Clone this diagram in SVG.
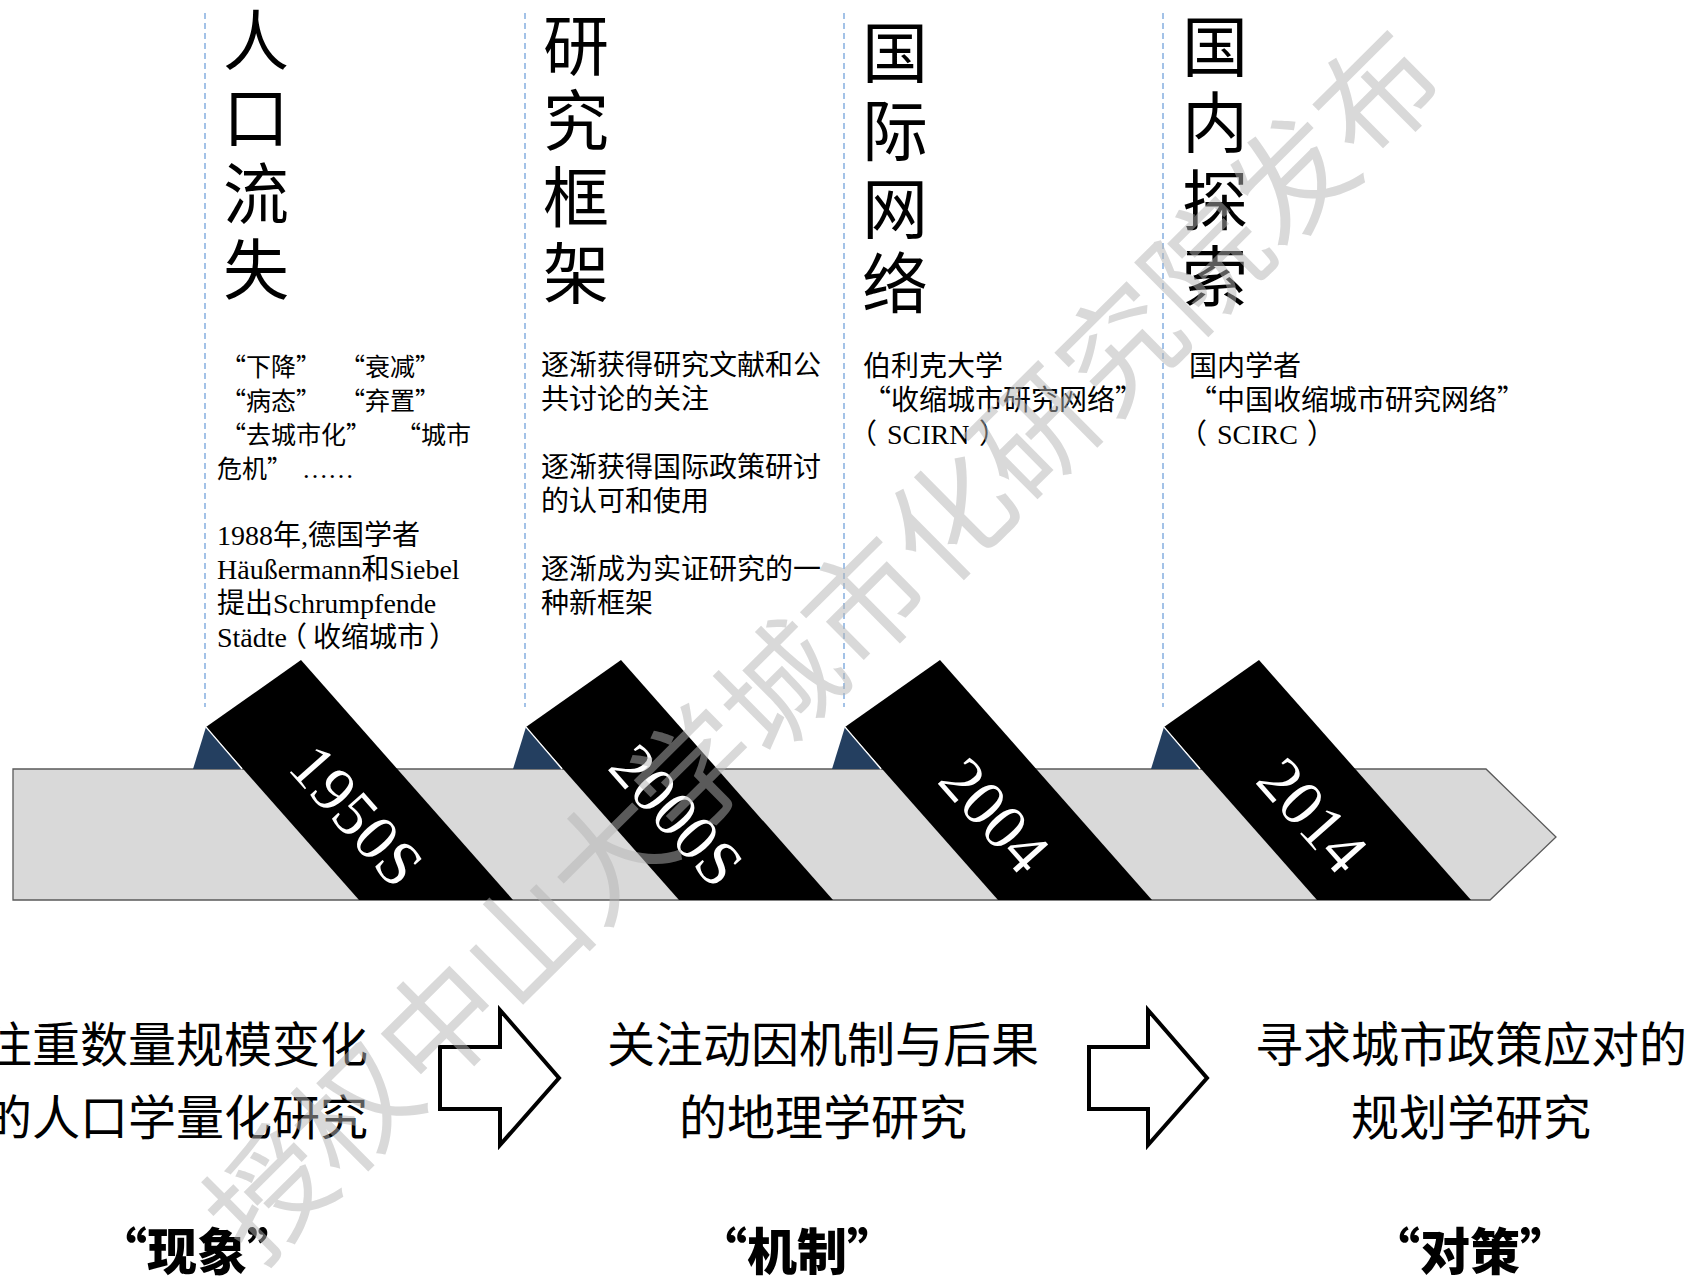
<svg xmlns="http://www.w3.org/2000/svg" width="1691" height="1280" viewBox="0 0 1691 1280">
<style>
.dash{stroke:#8db3e2;stroke-width:1.6;stroke-dasharray:6 4;fill:none}
.head{font-family:"Noto Sans CJK SC","Noto Sans CJK JP",sans-serif;font-size:66px;fill:#000}
.cjk{font-family:"Noto Sans CJK SC",sans-serif;fill:#000}
.mix{font-family:"Liberation Serif","Noto Sans CJK SC",serif;fill:#000}
.body{font-size:28px}
.small{font-size:25px}
.bar{fill:#d9d9d9;stroke:#595959;stroke-width:1.3}
.band{fill:#000}
.fold{fill:#243f60}
.year{font-family:"Liberation Serif",serif;font-size:64px;fill:#fff}
.big{font-family:"Noto Sans CJK SC",sans-serif;font-size:48px;fill:#000;text-anchor:middle}
.lab{font-family:"Noto Sans CJK SC",sans-serif;font-size:50px;font-weight:900;fill:#000;text-anchor:middle}
.arrow{fill:#fff;stroke:#000;stroke-width:4;stroke-linejoin:miter}
.wm{font-family:"Noto Sans CJK SC",sans-serif;font-size:120px;fill:#b3b3b3;fill-opacity:0.5;text-anchor:middle}
.cp{font-family:"Noto Sans CJK SC",sans-serif}
</style>
<rect width="1691" height="1280" fill="#fff"/>
<g id="connectors">
<line class="dash" x1="205" y1="13" x2="205" y2="707"/>
<line class="dash" x1="525" y1="13" x2="525" y2="707"/>
<line class="dash" x1="844" y1="13" x2="844" y2="707"/>
<line class="dash" x1="1163" y1="13" x2="1163" y2="707"/>
</g>
<g id="col1">
<text class="head"><tspan x="223" y="65">人</tspan><tspan x="223" y="142">口</tspan><tspan x="223" y="218">流</tspan><tspan x="223" y="294">失</tspan></text>
<text class="cjk small" y="376"><tspan x="221">“下降”</tspan><tspan x="340">“衰减”</tspan></text>
<text class="cjk small" y="410"><tspan x="221">“病态”</tspan><tspan x="340">“弃置”</tspan></text>
<text class="cjk small" y="444"><tspan x="221">“去城市化”</tspan><tspan x="396">“城市</tspan></text>
<text class="cjk small" y="478"><tspan x="217">危机”</tspan><tspan x="302" style="font-family:'Liberation Serif',serif;font-size:26px">……</tspan></text>
<text class="mix body" x="217" y="545">1988年,德国学者</text>
<text class="mix body" x="217" y="579">Häußermann和Siebel</text>
<text class="mix body" x="217" y="613">提出Schrumpfende</text>
<text class="mix body" y="647"><tspan x="217">Städte</tspan><tspan class="cp" x="279">（</tspan><tspan class="cp" x="313">收缩城市</tspan><tspan class="cp" x="429">）</tspan></text>
</g>
<g id="col2">
<text class="head"><tspan x="543" y="70">研</tspan><tspan x="543" y="145">究</tspan><tspan x="543" y="222">框</tspan><tspan x="543" y="298">架</tspan></text>
<text class="cjk body" x="541" y="375">逐渐获得研究文献和公</text>
<text class="cjk body" x="541" y="409">共讨论的关注</text>
<text class="cjk body" x="541" y="477">逐渐获得国际政策研讨</text>
<text class="cjk body" x="541" y="511">的认可和使用</text>
<text class="cjk body" x="541" y="579">逐渐成为实证研究的一</text>
<text class="cjk body" x="541" y="613">种新框架</text>
</g>
<g id="col3">
<text class="head"><tspan x="862" y="77">国</tspan><tspan x="862" y="155">际</tspan><tspan x="862" y="233">网</tspan><tspan x="862" y="308">络</tspan></text>
<text class="cjk body" x="863" y="376">伯利克大学</text>
<text class="cjk body" x="863" y="410">“收缩城市研究网络”</text>
<text class="mix body" y="444"><tspan class="cp" x="849">（</tspan><tspan x="887">SCIRN</tspan><tspan class="cp" x="979">）</tspan></text>
</g>
<g id="col4">
<text class="head"><tspan x="1182" y="71">国</tspan><tspan x="1182" y="147">内</tspan><tspan x="1182" y="225">探</tspan><tspan x="1182" y="301">索</tspan></text>
<text class="cjk body" x="1189" y="376">国内学者</text>
<text class="cjk body" x="1189" y="410">“中国收缩城市研究网络”</text>
<text class="mix body" y="444"><tspan class="cp" x="1179">（</tspan><tspan x="1217">SCIRC</tspan><tspan class="cp" x="1307">）</tspan></text>
</g>
<g id="timeline">
<polygon class="bar" points="13,769 1486,769 1556,837 1490,900 13,900"/>
</g>
<g id="m1950">
<polygon class="fold" points="206,727 193,769 242,769"/>
<polygon class="band" points="206,727 301,660 513,900 359,900"/>
<line x1="206" y1="727" x2="242" y2="769" stroke="#fff" stroke-width="1.2"/>
<text class="year" text-anchor="middle" transform="translate(357,815) rotate(48.5)" y="22">1950S</text>
</g>
<g id="m2000">
<polygon class="fold" points="526,727 513,769 562,769"/>
<polygon class="band" points="526,727 621,660 833,900 679,900"/>
<line x1="526" y1="727" x2="562" y2="769" stroke="#fff" stroke-width="1.2"/>
<text class="year" text-anchor="middle" transform="translate(677,815) rotate(48.5)" y="22">2000S</text>
</g>
<g id="m2004">
<polygon class="fold" points="845,727 832,769 881,769"/>
<polygon class="band" points="845,727 940,660 1152,900 998,900"/>
<line x1="845" y1="727" x2="881" y2="769" stroke="#fff" stroke-width="1.2"/>
<text class="year" text-anchor="middle" transform="translate(995,815) rotate(48.5)" y="22">2004</text>
</g>
<g id="m2014">
<polygon class="fold" points="1164,727 1151,769 1200,769"/>
<polygon class="band" points="1164,727 1259,660 1471,900 1317,900"/>
<line x1="1164" y1="727" x2="1200" y2="769" stroke="#fff" stroke-width="1.2"/>
<text class="year" text-anchor="middle" transform="translate(1313,815) rotate(48.5)" y="22">2014</text>
</g>
<g id="phase1">
<text class="big" x="176" y="1062">注重数量规模变化</text>
<text class="big" x="176" y="1135">的人口学量化研究</text>
<text class="lab" x="197" y="1270">“现象”</text>
</g>
<g id="arrow1">
<polygon class="arrow" points="440,1047 500,1047 500,1010 559,1078 500,1145 500,1109 440,1109"/>
</g>
<g id="phase2">
<text class="big" x="823" y="1062">关注动因机制与后果</text>
<text class="big" x="823" y="1135">的地理学研究</text>
<text class="lab" x="797" y="1270">“机制”</text>
</g>
<g id="arrow2">
<polygon class="arrow" points="1089,1047 1148,1047 1148,1010 1207,1078 1148,1145 1148,1109 1089,1109"/>
</g>
<g id="phase3">
<text class="big" x="1471" y="1062">寻求城市政策应对的</text>
<text class="big" x="1471" y="1135">规划学研究</text>
<text class="lab" x="1470" y="1270">“对策”</text>
</g>
<g id="watermark">
<text class="wm" transform="translate(824,645) rotate(-44.8)" y="43">授权中山大学城市化研究院发布</text>
</g>
</svg>
